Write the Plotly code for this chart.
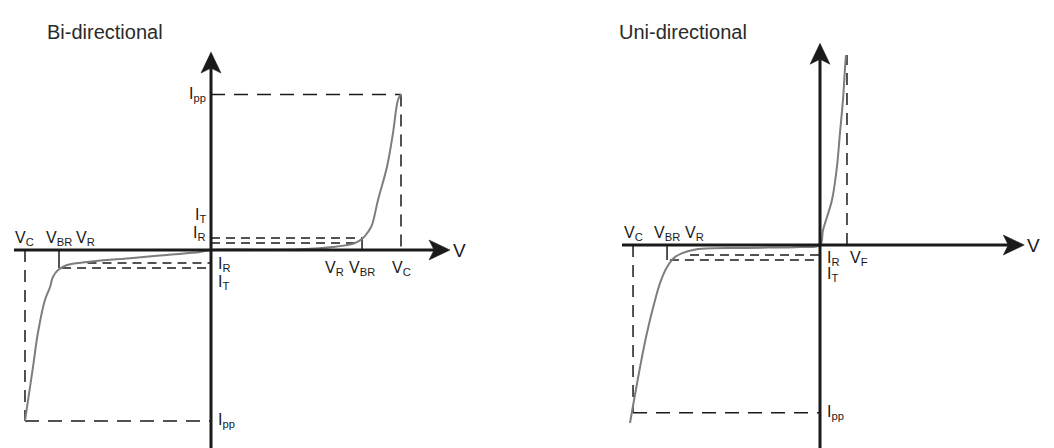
import plotly.graph_objects as go

# --- Kennlinie bidirektional (willkuerliche Einheiten: V nach rechts, I nach oben) ---
bi_curve_v = [-9.79, -9.37, -9.11, -8.74, -8.47, -8.32, -8.05, -7.58, -6.53, -4.11, -2.32, -0.58, 0.0,
              2.58, 4.68, 6.42, 7.58, 8.0, 8.26, 8.47, 8.79, 9.26, 9.58, 9.84, 10.0]
bi_curve_i = [-11.1, -7.60, -5.39, -3.25, -2.40, -1.75, -1.30, -0.97, -0.78, -0.52, -0.32, -0.13, 0.0,
              0.02, 0.05, 0.19, 0.45, 0.78, 1.17, 1.62, 3.25, 5.39, 7.60, 9.74, 10.1]
bi_vc = [-9.79, 10.0]
bi_vbr = [-8.0, 7.95]
bi_vr = [-6.6, 6.5]
bi_ipp = [-11.1, 10.1]
bi_it = [-1.17, 0.78]
bi_ir = [-0.84, 0.45]
bi_it_end = [-7.84, 7.95]
bi_ir_end = [-6.5, 7.58]
bi_axis_v = [-10.37, 12.58]
bi_axis_i = [-12.9, 12.85]

# --- Kennlinie unidirektional ---
uni_curve_v = [-10.0, -9.47, -9.11, -8.68, -8.42, -8.05, -7.63, -6.68, -4.05, -1.05, 0.0,
               0.16, 0.63, 0.89, 1.05, 1.21, 1.32, 1.37]
uni_curve_i = [-11.56, -7.92, -5.71, -3.57, -2.47, -1.43, -0.78, -0.32, -0.19, -0.13, 0.0,
               0.97, 2.92, 5.06, 7.27, 9.42, 11.56, 12.34]
uni_vc = -9.84
uni_vbr = -8.05
uni_vr = -6.6
uni_vf = 1.42
uni_ipp = -10.9
uni_it = -0.97
uni_ir = -0.65
uni_it_end = -7.9
uni_ir_end = -6.84
uni_if_top = 12.34
uni_axis_v = [-10.42, 10.75]
uni_axis_i = [-13.2, 13.1]

# Pixel pro Einheit, Lage der Ursprunge im Bild (body-Rand von 8px abgezogen)
SX, SY = 19.0, 15.4
PAD = 8
W, H = 1054 - PAD, 448 - PAD
ORIGIN = {'bi': (211 - PAD, 250 - PAD), 'uni': (820 - PAD, 245 - PAD)}
AXES = {'bi': ('x', 'y'), 'uni': ('x2', 'y2')}

INK = '#1a1a1a'
CURVE = '#7d7d7d'
FONT = 'Liberation Sans, Arial, sans-serif'

# Pfeilspitze in Pixeln: Laenge, halbe Breite, Tiefe der Kerbe
HEAD_LEN, HEAD_HALF, HEAD_NOTCH = 21, 10, 16

fig = go.Figure()


def add_line(panel, xs, ys, color=INK, width=1.5, dash='solid', shape='linear'):
    xa, ya = AXES[panel]
    fig.add_trace(go.Scatter(x=xs, y=ys, mode='lines', xaxis=xa, yaxis=ya,
                             line=dict(color=color, width=width, dash=dash, shape=shape),
                             hoverinfo='skip', showlegend=False))


def add_head(panel, xs, ys):
    xa, ya = AXES[panel]
    fig.add_trace(go.Scatter(x=xs, y=ys, mode='lines', fill='toself', fillcolor=INK,
                             xaxis=xa, yaxis=ya, line=dict(color=INK, width=0.5),
                             hoverinfo='skip', showlegend=False))


def add_axes(panel, axis_v, axis_i):
    add_line(panel, [axis_v[0], axis_v[1] - HEAD_NOTCH / SX], [0, 0], width=3)
    add_line(panel, [0, 0], [axis_i[0], axis_i[1] - HEAD_NOTCH / SY], width=3)
    tx, ty = axis_v[1], axis_i[1]
    # Pfeil nach rechts (V-Achse)
    add_head(panel,
             [tx, tx - HEAD_LEN / SX, tx - HEAD_NOTCH / SX, tx - HEAD_LEN / SX, tx],
             [0, HEAD_HALF / SY, 0, -HEAD_HALF / SY, 0])
    # Pfeil nach oben (I-Achse)
    add_head(panel,
             [0, -HEAD_HALF / SX, 0, HEAD_HALF / SX, 0],
             [ty, ty - HEAD_LEN / SY, ty - HEAD_NOTCH / SY, ty - HEAD_LEN / SY, ty])


def label(panel, text, x, y, xanchor='center', yanchor='middle', size=16, xshift=0, yshift=0):
    xa, ya = AXES[panel]
    fig.add_annotation(x=x, y=y, xref=xa, yref=ya, text=text, showarrow=False,
                       xanchor=xanchor, yanchor=yanchor, xshift=xshift, yshift=yshift,
                       font=dict(family=FONT, size=size, color=INK))


LONG = '14px,9px'
SHORT = '9px,6px'

# --- Ebene 1: Hilfslinien bidirektional ---
add_line('bi', [0, bi_vc[1]], [bi_ipp[1], bi_ipp[1]], dash=LONG)
add_line('bi', [bi_vc[1], bi_vc[1]], [bi_ipp[1], 0], dash='12px,8px')
add_line('bi', [0, bi_it_end[1]], [bi_it[1], bi_it[1]], dash=SHORT)
add_line('bi', [0, bi_ir_end[1]], [bi_ir[1], bi_ir[1]], dash=SHORT)
add_line('bi', [bi_vbr[1], bi_vbr[1]], [0, bi_it[1]])
add_line('bi', [bi_vc[0], bi_vc[0]], [0, bi_ipp[0]], dash='12px,8px')
add_line('bi', [bi_vc[0], 0], [bi_ipp[0], bi_ipp[0]], dash=LONG)
add_line('bi', [bi_ir_end[0], 0], [bi_ir[0], bi_ir[0]], dash=SHORT)
add_line('bi', [bi_it_end[0], 0], [bi_it[0], bi_it[0]], dash=SHORT)
add_line('bi', [bi_vbr[0], bi_vbr[0]], [0, bi_it[0]])

# --- Ebene 1: Hilfslinien unidirektional ---
add_line('uni', [uni_vf, uni_vf], [0, uni_if_top], dash='12px,8px')
add_line('uni', [uni_vc, uni_vc], [0, uni_ipp], dash='12px,8px')
add_line('uni', [uni_vc, 0], [uni_ipp, uni_ipp], dash=LONG)
add_line('uni', [uni_ir_end, 0], [uni_ir, uni_ir], dash=SHORT)
add_line('uni', [uni_it_end, 0], [uni_it, uni_it], dash=SHORT)
add_line('uni', [uni_vbr, uni_vbr], [0, uni_it])

# --- Ebene 2: Kennlinien ---
add_line('bi', bi_curve_v, bi_curve_i, color=CURVE, width=2, shape='spline')
add_line('uni', uni_curve_v, uni_curve_i, color=CURVE, width=2, shape='spline')

# --- Ebene 3: Achsen ---
add_axes('bi', bi_axis_v, bi_axis_i)
add_axes('uni', uni_axis_v, uni_axis_i)

# --- Ebene 4: Beschriftungen ---
for v, t in zip([bi_vc[0], bi_vbr[0], bi_vr[0]], ['C', 'BR', 'R']):
    label('bi', f'V<sub>{t}</sub>', v, 0, yanchor='bottom', yshift=0)
for v, t in zip([bi_vr[1], bi_vbr[1], bi_vc[1]], ['R', 'BR', 'C']):
    label('bi', f'V<sub>{t}</sub>', v, 0, yanchor='top', yshift=-7)
label('bi', 'I<sub>pp</sub>', 0, bi_ipp[1], xanchor='right', xshift=-3)
label('bi', 'I<sub>T</sub>', 0, bi_it[1], xanchor='right', xshift=-3, yshift=22)
label('bi', 'I<sub>R</sub>', 0, bi_it[1], xanchor='right', xshift=-3, yshift=4)
label('bi', 'I<sub>R</sub>', 0, bi_ir[0], xanchor='left', xshift=5, yshift=-2)
label('bi', 'I<sub>T</sub>', 0, bi_it[0], xanchor='left', xshift=5, yshift=-14)
label('bi', 'I<sub>pp</sub>', 0, bi_ipp[0], xanchor='left', xshift=5)
label('bi', 'V', bi_axis_v[1], 0, xanchor='left', xshift=1, size=19)

for v, t in zip([uni_vc, uni_vbr, uni_vr], ['C', 'BR', 'R']):
    label('uni', f'V<sub>{t}</sub>', v, 0, yanchor='bottom', yshift=0)
label('uni', 'I<sub>R</sub>', 0, uni_ir, xanchor='left', xshift=5, yshift=-3)
label('uni', 'V<sub>F</sub>', uni_vf, uni_ir, xanchor='left', xshift=1, yshift=-3)
label('uni', 'I<sub>T</sub>', 0, uni_it, xanchor='left', xshift=5, yshift=-15)
label('uni', 'I<sub>pp</sub>', 0, uni_ipp, xanchor='left', xshift=5)
label('uni', 'V', uni_axis_v[1], 0, xanchor='left', xshift=1, size=19)

for x_px, title in [(45, 'Bi-directional'), (617, 'Uni-directional')]:
    fig.add_annotation(x=(x_px - PAD) / W, y=1 - (32 - PAD) / H, xref='paper', yref='paper', text=title,
                       showarrow=False, xanchor='left', yanchor='middle',
                       font=dict(family=FONT, size=20, color='#2a2a2a'))


# --- Achsen so skalieren, dass die Ursprunge an der richtigen Stelle liegen ---
def axis_ranges(panel, x0_px, x1_px):
    ox, oy = ORIGIN[panel]
    return [(x0_px - ox) / SX, (x1_px - ox) / SX], [-(H - oy) / SY, oy / SY]


split = round(W / 2)
bx, by = axis_ranges('bi', 0, split)
ux, uy = axis_ranges('uni', split, W)
hidden = dict(visible=False, showgrid=False, zeroline=False, fixedrange=True)

fig.update_layout(
    width=W, height=H,
    margin=dict(l=0, r=0, t=0, b=0),
    paper_bgcolor='white', plot_bgcolor='white',
    showlegend=False,
    xaxis=dict(domain=[0, split / W], range=bx, **hidden),
    yaxis=dict(domain=[0, 1], range=by, **hidden),
    xaxis2=dict(domain=[split / W, 1], range=ux, anchor='y2', **hidden),
    yaxis2=dict(domain=[0, 1], range=uy, anchor='x2', **hidden),
)

fig.write_html("out.html")
